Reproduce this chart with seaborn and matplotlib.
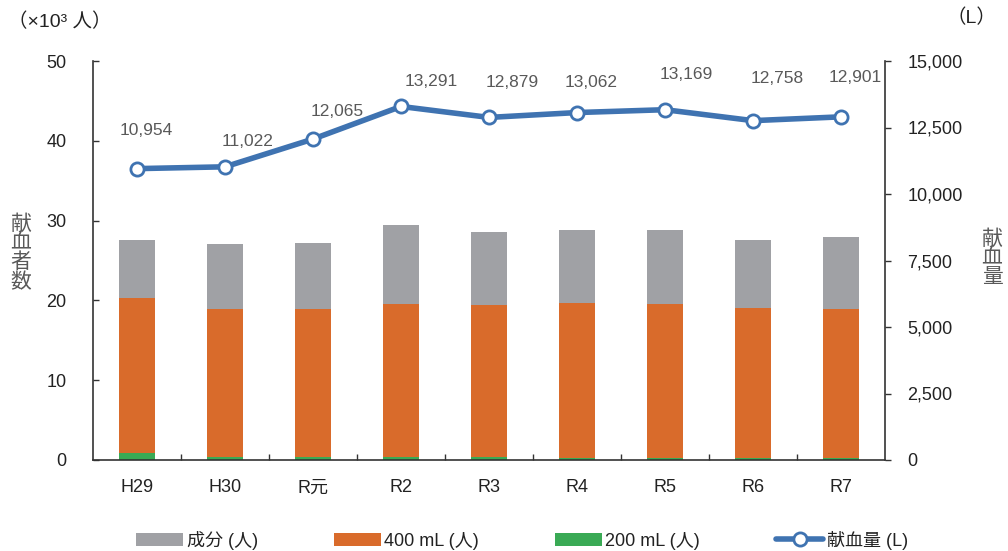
import numpy as np
import matplotlib
matplotlib.use('Agg')
import matplotlib.pyplot as plt
from matplotlib.patches import Patch
from matplotlib.lines import Line2D
from matplotlib.ticker import FuncFormatter, MultipleLocator, FixedLocator
import seaborn as sns

# Datos
categorias = ['H29', 'H30', 'R元', 'R2', 'R3', 'R4', 'R5', 'R6', 'R7']
seibun = [7.3, 8.2, 8.3, 9.8, 9.2, 9.1, 9.2, 8.5, 9.0]       # 成分 (×10^3 人)
ml400 = [19.4, 18.5, 18.5, 19.2, 19.0, 19.5, 19.4, 18.9, 18.7]  # 400 mL
ml200 = [0.9, 0.4, 0.4, 0.4, 0.4, 0.2, 0.2, 0.2, 0.2]          # 200 mL
volumen = [10954, 11022, 12065, 13291, 12879, 13062, 13169, 12758, 12901]  # 献血量 (L)

# desplazamiento de las etiquetas de datos (px)
offsets_etiquetas = [(9, 38), (23, 25), (24, 28), (30, 25), (23, 35),
                     (14, 30), (21, 35), (24, 42), (14, 39)]

GRIS = '#A0A1A5'
NARANJA = '#D96B2B'
VERDE = '#3AAA55'
AZUL = '#3F73B1'
TEXTO = '#222222'

sns.set_theme(style='white')
plt.rcParams['font.family'] = ['Liberation Sans', 'Noto Sans CJK JP', 'DejaVu Sans']

fig = plt.figure(figsize=(10.08, 5.51), dpi=100)
ax = fig.add_axes([93 / 1008, 1 - 460 / 551, (885 - 93) / 1008, (460 - 61) / 551])

# Barras apiladas: se dibujan los acumulados de arriba hacia abajo
tope_400 = np.array(ml200) + np.array(ml400)
tope_total = tope_400 + np.array(seibun)
for alturas, color in [(tope_total, GRIS), (tope_400, NARANJA), (np.array(ml200), VERDE)]:
    sns.barplot(x=categorias, y=alturas, color=color, saturation=1, width=0.42,
                errorbar=None, ax=ax, linewidth=0)

ax.set_xlim(-0.5, 8.5)
ax.set_ylim(0, 50)
ax.yaxis.set_major_locator(MultipleLocator(10))
ax.set_xticks(range(len(categorias)))
ax.set_xticklabels(categorias)
ax.xaxis.set_minor_locator(FixedLocator(np.arange(0.5, 8, 1)))
ax.tick_params(axis='x', which='major', length=0, pad=14, labelsize=13, labelcolor=TEXTO)
ax.tick_params(axis='x', which='minor', direction='in', length=4, width=1, color='#333333', bottom=True)
ax.tick_params(axis='y', direction='in', length=4, width=1, color='#333333', left=True,
               pad=19, labelsize=13, labelcolor=TEXTO)
ax.set_xlabel('')
ax.set_ylabel('')
for lado in ['top', 'right']:
    ax.spines[lado].set_visible(False)
for lado in ['left', 'bottom']:
    ax.spines[lado].set_color('#333333')
    ax.spines[lado].set_linewidth(1.2)

# Línea de volumen en el eje derecho
ax2 = ax.twinx()
x_pos = np.arange(len(categorias))
sns.lineplot(x=x_pos, y=volumen, ax=ax2, color=AZUL, linewidth=4, marker='o',
             markersize=9.5, markerfacecolor='white', markeredgecolor=AZUL,
             markeredgewidth=2, zorder=5)
ax2.set_ylim(0, 15000)
ax2.yaxis.set_major_locator(MultipleLocator(2500))
ax2.yaxis.set_major_formatter(FuncFormatter(lambda v, p: f'{int(v):,}'))
ax2.tick_params(axis='y', direction='out', length=4, width=1, color='#333333', right=True,
                pad=12, labelsize=13, labelcolor=TEXTO)
ax2.set_ylabel('')
for lado in ['top', 'left', 'bottom']:
    ax2.spines[lado].set_visible(False)
ax2.spines['right'].set_color('#333333')
ax2.spines['right'].set_linewidth(1.2)

for xi, v, (dx, dy) in zip(x_pos, volumen, offsets_etiquetas):
    ax2.annotate(f'{v:,}', xy=(xi, v), xytext=(dx, dy), textcoords='offset pixels',
                 ha='center', va='center', fontsize=12.5, color='#595959')

# Rótulos de unidades y de ejes
fig.text(8 / 1008, 1 - 22 / 551, '（×10³ 人）', fontsize=14, color=TEXTO, va='center', ha='left')
fig.text(947 / 1008, 1 - 18 / 551, '（L）', fontsize=14, color=TEXTO, va='center', ha='left')
fig.text(21 / 1008, 1 - 253 / 551, '\n'.join('献血者数'), fontsize=15, color='#595959',
         ha='center', va='center', linespacing=1.0)
fig.text(992 / 1008, 1 - 258 / 551, '\n'.join('献血量'), fontsize=15, color='#595959',
         ha='center', va='center', linespacing=1.0)

# Leyenda
handles = [
    Patch(facecolor=GRIS, edgecolor='none', label='成分 (人)'),
    Patch(facecolor=NARANJA, edgecolor='none', label='400 mL (人)'),
    Patch(facecolor=VERDE, edgecolor='none', label='200 mL (人)'),
    Line2D([0], [0], color=AZUL, linewidth=4, marker='o', markersize=9.5,
           markerfacecolor='white', markeredgecolor=AZUL, markeredgewidth=2, label='献血量 (L)'),
]
fig.legend(handles=handles, loc='center', bbox_to_anchor=(522 / 1008, 1 - 540 / 551), ncol=4,
           frameon=False, fontsize=13, handlelength=2.6, handleheight=0.75,
           handletextpad=0.2, columnspacing=4.2, labelcolor=TEXTO)

fig.savefig('out.png', dpi=100)
